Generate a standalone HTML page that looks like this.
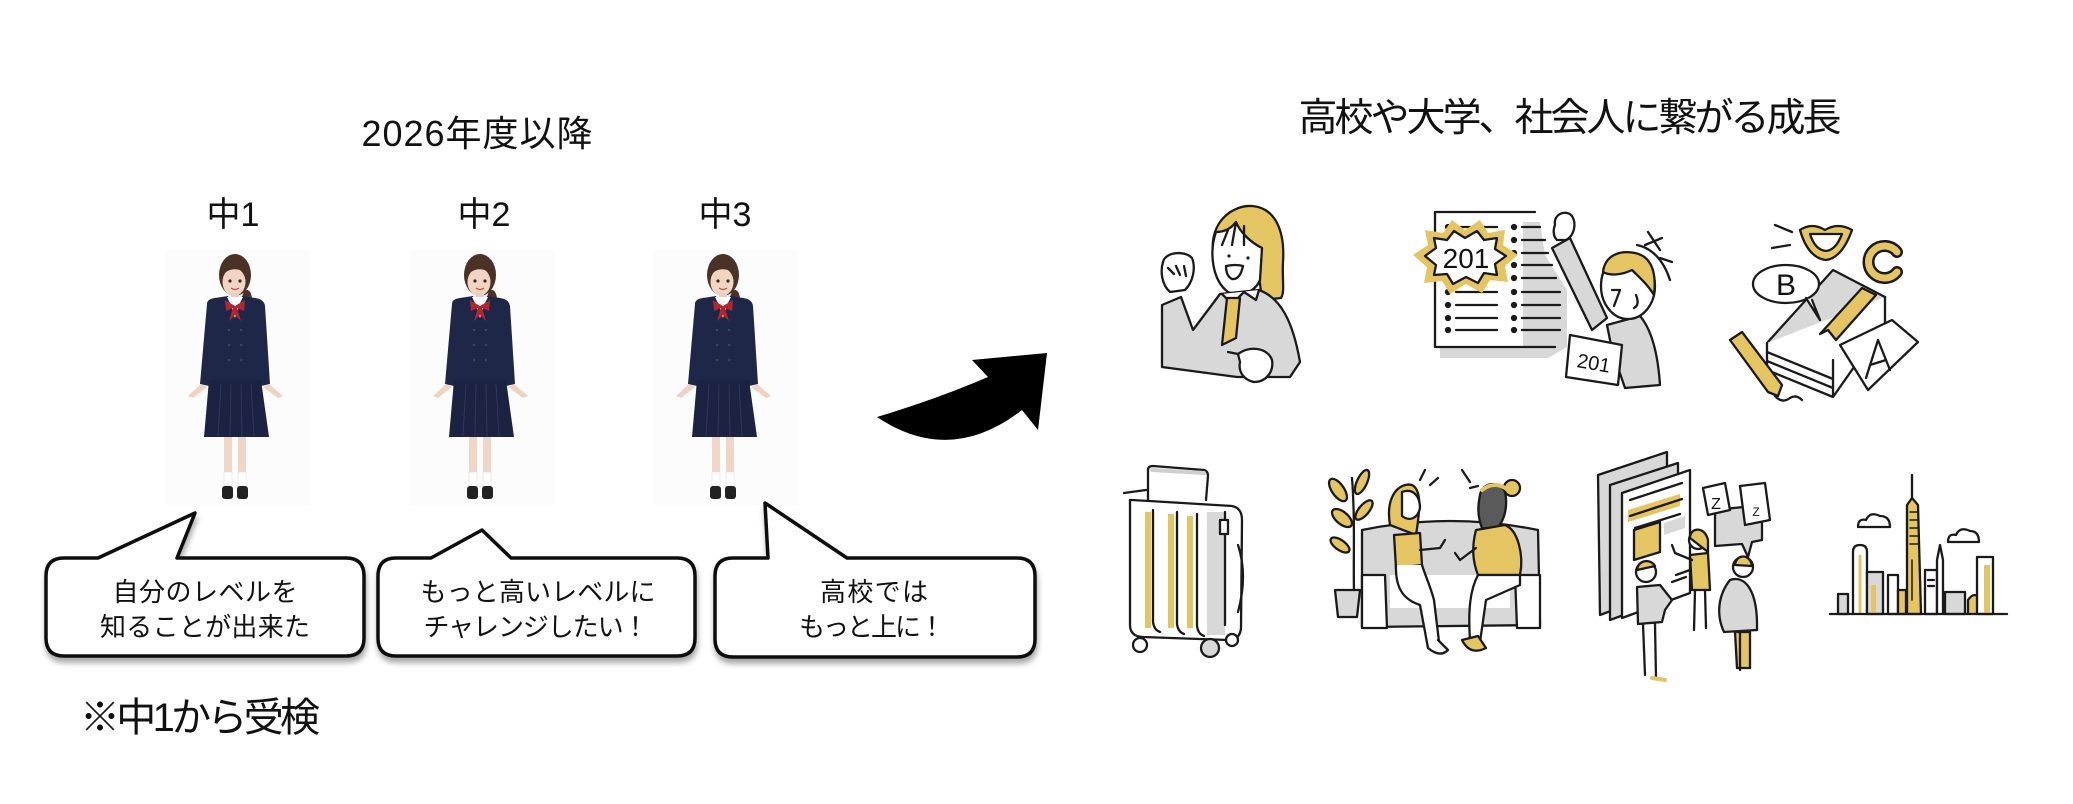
<!DOCTYPE html>
<html><head><meta charset="utf-8">
<style>
html,body{margin:0;padding:0;background:#fff;}
svg{display:block;}
text{font-family:"Liberation Sans","Noto Sans CJK JP",sans-serif;fill:#111;}
</style></head>
<body>
<svg width="2073" height="804" viewBox="0 0 2073 804" xmlns="http://www.w3.org/2000/svg">
<defs>
  <filter id="sh" x="-10%" y="-20%" width="120%" height="150%">
    <feDropShadow dx="1" dy="5" stdDeviation="3" flood-color="#000" flood-opacity="0.35"/>
  </filter>
  <g id="girl">
    <rect x="-70" y="250" width="145" height="255" fill="#fcfcfc"/>
    <!-- hair back + ponytail -->
    <ellipse cx="0" cy="275" rx="16" ry="21" fill="#4a3226"/>
    <ellipse cx="12" cy="300" rx="5" ry="10" fill="#4a3226"/>
    <!-- face -->
    <ellipse cx="-1" cy="282" rx="11.5" ry="14" fill="#f2d4c3"/>
    <path d="M-13 276 C-12 262 10 260 13 276 C8 268 -6 266 -13 276 Z" fill="#4a3226"/>
    <circle cx="-5" cy="281" r="1.6" fill="#3a2a22"/>
    <circle cx="5" cy="281" r="1.6" fill="#3a2a22"/>
    <path d="M-4 288 Q0 291 4 288" stroke="#b0504a" stroke-width="1.2" fill="none"/>
    <rect x="-4" y="293" width="8" height="6" fill="#ead0c0"/>
    <!-- jacket -->
    <path d="M-28 304 Q-28 299 -20 298 L-7 296 L0 318 L7 296 L20 298 Q29 299 30 306 L35 384 L26 386 L25 381 L-25 381 L-26 386 L-35 384 Z" fill="#1f2749"/>
    <path d="M-8 297 L8 297 L4 305 L-4 305 Z" fill="#fff"/>
    <path d="M-10 300 L0 306 L10 300 L9 311 L2 308 L6 321 L0 315 L-6 321 L-2 308 L-9 311 Z" fill="#b3262f"/>
    <g fill="#3d4566"><circle cx="-6" cy="330" r="1.3"/><circle cx="6" cy="330" r="1.3"/><circle cx="-6" cy="345" r="1.3"/><circle cx="6" cy="345" r="1.3"/><circle cx="-6" cy="360" r="1.3"/><circle cx="6" cy="360" r="1.3"/></g>
    <!-- hands -->
    <path d="M-34 384 L-47 396 L-42 398 L-28 387 Z" fill="#efd2c2"/>
    <path d="M34 384 L48 396 L43 398 L28 387 Z" fill="#efd2c2"/>
    <!-- skirt -->
    <path d="M-26 380 L26 380 L34 437 L-31 437 Z" fill="#1b2242"/>
    <g stroke="#2e3760" stroke-width="1"><line x1="-14" y1="384" x2="-17" y2="436"/><line x1="-4" y1="384" x2="-5" y2="436"/><line x1="6" y1="384" x2="7" y2="436"/><line x1="16" y1="384" x2="19" y2="436"/></g>
    <!-- legs -->
    <rect x="-11" y="437" width="8" height="40" fill="#efd6c6"/>
    <rect x="3" y="437" width="8" height="40" fill="#efd6c6"/>
    <rect x="-11" y="472" width="8" height="14" fill="#fff" stroke="#ddd" stroke-width="0.6"/>
    <rect x="3" y="472" width="8" height="14" fill="#fff" stroke="#ddd" stroke-width="0.6"/>
    <rect x="-13" y="486" width="11" height="13" rx="3" fill="#222"/>
    <rect x="2" y="486" width="11" height="13" rx="3" fill="#222"/>
  </g>
</defs>

<!-- Titles -->
<text x="477" y="146" font-size="36" text-anchor="middle" textLength="231" lengthAdjust="spacing">2026年度以降</text>
<text x="233" y="226" font-size="34" text-anchor="middle">中1</text>
<text x="484" y="226" font-size="34" text-anchor="middle">中2</text>
<text x="725" y="226" font-size="34" text-anchor="middle">中3</text>
<text x="1570" y="131" font-size="39" text-anchor="middle" textLength="543" lengthAdjust="spacing">高校や大学、社会人に繋がる成長</text>

<!-- girls -->
<use href="#girl" x="235" y="0"/>
<use href="#girl" x="480" y="0"/>
<use href="#girl" x="723" y="0"/>

<!-- bubbles -->
<g fill="#fff" stroke="#111" stroke-width="3.5" stroke-linejoin="round" filter="url(#sh)">
  <path d="M64 558 L98 558 L195 513 L177 558 L346 558 Q364 558 364 576 L364 638 Q364 656 346 656 L64 656 Q46 656 46 638 L46 576 Q46 558 64 558 Z"/>
  <path d="M396 558 L431 558 L482 530 L511 558 L677 558 Q695 558 695 576 L695 638 Q695 656 677 656 L396 656 Q378 656 378 638 L378 576 Q378 558 396 558 Z"/>
  <path d="M733 558 L768 558 L765 503 L847 558 L1017 558 Q1035 558 1035 576 L1035 639 Q1035 657 1017 657 L733 657 Q715 657 715 639 L715 576 Q715 558 733 558 Z"/>
</g>
<text x="205" y="601" font-size="26" text-anchor="middle" textLength="185" lengthAdjust="spacing">自分のレベルを</text>
<text x="205" y="636" font-size="26" text-anchor="middle" textLength="210" lengthAdjust="spacing">知ることが出来た</text>
<text x="538" y="601" font-size="26" text-anchor="middle" textLength="235" lengthAdjust="spacing">もっと高いレベルに</text>
<text x="536" y="636" font-size="26" text-anchor="middle" textLength="225" lengthAdjust="spacing">チャレンジしたい！</text>
<text x="874" y="601" font-size="26" text-anchor="middle" textLength="108" lengthAdjust="spacing">高校では</text>
<text x="872" y="636" font-size="26" text-anchor="middle" textLength="146" lengthAdjust="spacing">もっと上に！</text>

<text x="80" y="731" font-size="40" textLength="240" lengthAdjust="spacing">※中1から受検</text>

<!-- big arrow -->
<path d="M877 417 Q937 399 988 377 L972 360 L1047 353 L1038 430 L1022 410 Q950 466 877 417 Z" fill="#000"/>

<!-- ============ ICONS ============ -->
<g stroke="#1a1a1a" stroke-width="2.3" stroke-linecap="round" stroke-linejoin="round">

<!-- Icon1: girl with fist -->
<path d="M1213 252 C1210 222 1232 205 1252 206 C1276 208 1285 232 1283 262 C1282 280 1285 292 1281 298 L1262 300 L1258 268 Z" fill="#e5c562"/>
<path d="M1216 232 C1209 252 1212 280 1228 292 C1240 298 1255 292 1260 280 L1262 248 C1250 242 1240 232 1236 222 C1230 230 1222 232 1216 232 Z" fill="#fff"/>
<path d="M1236 222 L1232 245 M1244 226 L1244 245 M1228 230 L1222 245" fill="none"/>
<circle cx="1229" cy="256" r="1.6" fill="#1a1a1a" stroke="none"/>
<circle cx="1248" cy="258" r="1.6" fill="#1a1a1a" stroke="none"/>
<path d="M1226 266 Q1236 264 1243 266 Q1240 280 1232 279 Q1226 276 1226 266 Z" fill="#fff"/>
<path d="M1162 305 L1181 297 L1193 330 L1220 294 L1259 290 C1281 298 1293 322 1300 362 L1290 377 L1237 377 L1162 367 Z" fill="#d8d8d8"/>
<path d="M1222 294 L1232 304 L1244 292 L1256 300 L1259 290" fill="#fff"/>
<path d="M1227 298 L1240 298 L1236 338 L1222 345 Z" fill="#e5c562"/>
<path d="M1163 262 C1165 252 1185 250 1192 258 C1196 268 1193 282 1185 290 L1170 292 C1162 285 1160 272 1163 262 Z" fill="#fff"/>
<path d="M1168 268 L1174 274 M1176 266 L1180 275 M1184 266 L1186 276" fill="none"/>
<path d="M1238 354 C1250 345 1268 348 1272 360 C1274 372 1266 382 1254 382 C1244 380 1238 372 1240 362 Z" fill="#fff"/>
<path d="M1238 354 L1228 352" fill="none"/>

<!-- Icon2: list with 201 -->
<path d="M1523 222 L1540 222 L1545 255 L1567 290 L1567 347 L1548 358 L1440 358 L1440 347 L1523 347 Z" fill="#d8d8d8" stroke="none"/>
<path d="M1535 212 L1435 212 L1435 347 L1555 347" fill="none"/>
<g fill="#1a1a1a">
  <circle cx="1448" cy="227" r="2"/><circle cx="1448" cy="292" r="2"/><circle cx="1448" cy="305" r="2"/><circle cx="1448" cy="318" r="2"/><circle cx="1448" cy="330" r="2"/>
  <circle cx="1514" cy="227" r="2"/><circle cx="1514" cy="240" r="2"/><circle cx="1514" cy="253" r="2"/><circle cx="1514" cy="265" r="2"/><circle cx="1514" cy="278" r="2"/><circle cx="1514" cy="292" r="2"/><circle cx="1514" cy="305" r="2"/><circle cx="1514" cy="318" r="2"/><circle cx="1514" cy="330" r="2"/>
</g>
<path d="M1456 227 H1497 M1456 292 H1497 M1456 305 H1497 M1456 318 H1497 M1456 330 H1497 M1522 227 H1540 M1522 240 H1545 M1522 253 H1548 M1522 265 H1552 M1522 278 H1556 M1522 292 H1560 M1522 305 H1560 M1522 318 H1560 M1522 330 H1560" fill="none"/>
<polygon points="1413,255 1428,245 1425,230 1443,233 1452,220 1465,230 1480,220 1488,233 1505,230 1503,245 1518,255 1505,266 1508,282 1490,280 1482,293 1466,284 1450,294 1442,281 1424,283 1427,267" fill="#e5c562" stroke="none"/>
<polygon points="1425,256 1436,248 1434,238 1447,240 1454,231 1465,238 1477,231 1484,240 1497,238 1495,249 1506,256 1495,264 1497,275 1484,273 1478,283 1466,277 1453,284 1447,274 1434,275 1436,265" fill="#fff"/>
<text x="1466" y="268" font-size="28" text-anchor="middle" stroke="none">201</text>
<path d="M1552 248 L1570 238 L1607 318 L1592 330 Z" fill="#d8d8d8"/>
<path d="M1555 225 C1553 214 1566 209 1572 216 C1577 224 1574 236 1566 240 L1557 240 C1553 236 1553 230 1555 225 Z" fill="#fff"/>
<path d="M1607 325 L1640 316 C1652 330 1658 355 1660 385 L1625 388 L1612 350 Z" fill="#d8d8d8"/>
<ellipse cx="1628" cy="286" rx="27" ry="33" fill="#fff"/>
<path d="M1603 272 C1605 255 1620 250 1635 253 C1650 256 1657 270 1654 295 C1648 285 1640 278 1632 270 C1622 275 1610 276 1603 272 Z" fill="#e5c562"/>
<path d="M1612 290 L1620 290 L1614 306 M1636 295 Q1640 305 1634 308" fill="none"/>
<path d="M1570 335 L1622 345 L1618 385 L1566 377 Z" fill="#fff"/>
<text x="1594" y="370" font-size="20" text-anchor="middle" stroke="none" transform="rotate(10 1594 362)">201</text>
<path d="M1637 245 Q1660 250 1670 280 M1648 232 L1660 250 M1645 245 L1662 238 M1660 258 L1672 262" fill="none"/>

<!-- Icon3: books ABC -->
<path d="M1775 225 L1792 232 M1772 248 L1790 245" fill="none"/>
<path d="M1800 230 Q1812 222 1825 230 Q1838 222 1852 230 Q1842 258 1826 260 Q1808 258 1800 230 Z" fill="#e5c562"/>
<path d="M1810 234 L1842 234 Q1836 250 1826 251 Q1815 250 1810 234 Z" fill="#fff"/>
<path d="M1897 252 A16 16 0 1 0 1897 272" fill="none" stroke="#1a1a1a" stroke-width="12"/>
<path d="M1897 252 A16 16 0 1 0 1897 272" fill="none" stroke="#e5c562" stroke-width="7"/>
<path d="M1767 343 L1833 270 L1885 297 L1833 360 Z" fill="#d8d8d8"/>
<path d="M1767 343 L1767 370 L1833 397 L1885 323 L1885 297 M1767 352 L1833 379 M1767 361 L1833 388 M1833 360 L1833 397" fill="#fff"/>
<path d="M1862 288 L1876 295 L1836 340 L1828 330 L1820 334 Z" fill="#e5c562"/>
<path d="M1840 345 L1892 320 L1918 342 L1868 390 Z" fill="#fff"/>
<path d="M1866 378 L1878 340 L1890 370 M1870 365 L1886 360" fill="none"/>
<ellipse cx="1786" cy="284" rx="33" ry="19" fill="#fff"/>
<path d="M1806 298 L1820 320 L1812 300" fill="#fff"/>
<text x="1786" y="295" font-size="30" text-anchor="middle" stroke="none">B</text>
<path d="M1730 340 L1742 332 L1782 385 L1778 396 L1768 392 Z" fill="#e5c562"/>
<path d="M1775 396 Q1782 404 1790 398 Q1796 394 1802 400" fill="none"/>

<!-- Icon4: suitcase -->
<path d="M1148 500 L1148 470 Q1148 466 1153 466 L1204 470 Q1208 471 1208 476 L1206 500" fill="none"/>
<path d="M1152 470 L1204 473" stroke="#cfcfcf" stroke-width="4"/>
<path d="M1132 500 L1232 506 Q1242 508 1242 520 L1241 628 Q1240 640 1228 640 L1142 637 Q1130 636 1130 625 L1130 500 Z" fill="#fff"/>
<path d="M1207 512 L1225 512 L1225 635 L1207 635 Z" fill="#d8d8d8" stroke="none"/>
<g stroke="#e5c562" stroke-width="6" stroke-linecap="butt">
  <line x1="1148" y1="512" x2="1148" y2="628"/><line x1="1171" y1="514" x2="1171" y2="628"/><line x1="1190" y1="516" x2="1190" y2="628"/>
</g>
<path d="M1153 510 L1153 622 Q1154 630 1160 632 M1177 512 L1177 624 Q1178 632 1184 634 M1197 514 L1197 626 Q1198 634 1204 636 M1225 512 L1225 625" fill="none"/>
<rect x="1220" y="520" width="8" height="14" fill="#fff"/>
<path d="M1238 545 Q1248 575 1238 612" fill="none"/>
<path d="M1124 493 L1146 490" fill="none"/>
<circle cx="1140" cy="645" r="7" fill="#fff"/><circle cx="1210" cy="648" r="9" fill="#d8d8d8"/><circle cx="1232" cy="640" r="6" fill="#fff"/>

<!-- Icon5: sofa conversation -->
<path d="M1355 617 C1352 580 1356 530 1352 478" fill="none"/>
<g fill="#e5c562">
  <ellipse cx="1338" cy="490" rx="6" ry="13" transform="rotate(-35 1338 490)"/>
  <ellipse cx="1362" cy="482" rx="5" ry="13" transform="rotate(25 1362 482)"/>
  <ellipse cx="1342" cy="518" rx="6" ry="12" transform="rotate(-50 1342 518)"/>
  <ellipse cx="1364" cy="510" rx="5" ry="12" transform="rotate(40 1364 510)"/>
  <ellipse cx="1340" cy="545" rx="5" ry="11" transform="rotate(-55 1340 545)"/>
</g>
<path d="M1335 590 L1360 590 L1357 617 L1338 617 Z" fill="#d8d8d8"/>
<path d="M1362 530 Q1450 512 1538 530 L1540 625 L1362 627 Z" fill="#d8d8d8"/>
<path d="M1362 575 L1385 575 L1387 628 L1362 628 Z M1515 575 L1540 575 L1540 628 L1517 628 Z" fill="#fff"/>
<path d="M1390 575 L1510 575 L1510 608 L1390 608 Z" fill="#fff" stroke="none"/>
<!-- woman 1 -->
<path d="M1390 525 C1385 495 1400 482 1412 485 C1422 490 1420 510 1416 535 Z" fill="#e5c562"/>
<path d="M1402 492 C1412 488 1420 495 1420 508 C1418 518 1410 522 1402 516 Z" fill="#fff"/>
<path d="M1394 535 L1420 533 L1422 565 L1396 568 Z" fill="#e5c562"/>
<path d="M1420 550 L1440 548 L1445 540" fill="none"/>
<path d="M1396 565 C1395 590 1405 600 1420 605 L1428 648 L1440 650 L1434 600 C1430 585 1425 575 1422 565" fill="#fff"/>
<path d="M1428 648 Q1440 658 1448 650 L1438 640" fill="#fff"/>
<!-- woman 2 -->
<circle cx="1512" cy="488" r="8" fill="#e5c562"/>
<path d="M1480 495 C1482 482 1500 480 1505 492 C1508 505 1505 522 1495 530 L1482 528 C1477 515 1478 505 1480 495 Z" fill="#5a5a5a"/>
<path d="M1482 490 Q1495 480 1508 490" stroke="#e5c562" stroke-width="4" fill="none"/>
<path d="M1476 530 L1505 525 C1518 530 1524 555 1520 575 L1478 575 C1472 560 1472 545 1476 530 Z" fill="#e5c562"/>
<path d="M1476 548 L1460 560 L1455 553" fill="none"/>
<path d="M1478 575 C1470 590 1468 610 1470 640 L1480 642 L1486 600 L1520 585 L1520 575 Z" fill="#fff"/>
<path d="M1462 640 Q1470 656 1486 648 L1478 636 Z" fill="#e5c562"/>
<path d="M1420 480 L1425 470 M1430 485 L1438 478 M1462 470 L1470 482 M1470 488 L1478 486" fill="none"/>

<!-- Icon6: board discussion -->
<path d="M1598 475 L1667 452 L1667 590 L1600 615 Z" fill="#d8d8d8"/>
<path d="M1610 485 L1678 463 L1678 595 L1610 620 Z" fill="#d8d8d8"/>
<path d="M1622 493 L1690 470 L1690 593 L1622 618 Z" fill="#fff"/>
<path d="M1628 510 L1680 494 L1680 506 L1628 522 Z" fill="#e5c562" stroke="none"/>
<path d="M1630 500 L1682 483 M1630 516 L1682 499 M1635 528 L1680 514" fill="none"/>
<path d="M1634 530 L1660 522 L1660 552 L1634 560 Z" fill="#e5c562"/>
<path d="M1664 523 L1685 516 L1685 528 L1664 535 Z" fill="#d8d8d8" stroke="none"/>
<path d="M1715 510 L1762 505 L1762 540 L1752 542 L1748 557 L1742 544 L1715 546 Z" fill="#d8d8d8"/>
<path d="M1703 488 L1725 483 L1730 510 L1708 515 Z" fill="#fff"/>
<path d="M1740 486 L1765 483 L1770 520 L1745 525 Z" fill="#fff"/>
<text x="1716" y="509" font-size="16" text-anchor="middle" stroke="none">Z</text>
<text x="1756" y="516" font-size="12" text-anchor="middle" stroke="none">Z</text>
<!-- p1 -->
<circle cx="1646" cy="572" r="10" fill="#fff"/>
<path d="M1637 570 C1638 560 1650 558 1655 566 Z" fill="#e5c562"/>
<path d="M1637 587 L1660 585 L1672 600 L1665 610 L1662 622 L1638 624 Z" fill="#d8d8d8"/>
<path d="M1643 624 L1645 675 M1655 624 L1656 678" fill="none"/>
<path d="M1652 678 L1665 680" stroke="#e5c562" stroke-width="4"/>
<!-- p2 -->
<circle cx="1698" cy="540" r="9" fill="#fff"/>
<path d="M1690 538 C1690 527 1705 526 1708 540 L1708 552 Z" fill="#e5c562"/>
<path d="M1690 555 L1708 553 L1710 590 L1692 590 Z" fill="#e5c562"/>
<path d="M1692 560 L1675 553 L1672 545" fill="none"/>
<path d="M1695 590 L1694 630 M1705 590 L1706 628" fill="none"/>
<!-- p3 -->
<circle cx="1743" cy="567" r="10" fill="#fff"/>
<path d="M1735 565 C1736 554 1750 553 1752 566 Z" fill="#e5c562"/>
<path d="M1730 580 C1745 575 1758 590 1757 630 L1724 632 C1716 615 1718 595 1730 580 Z" fill="#d8d8d8"/>
<path d="M1735 632 L1750 632 L1750 668 L1737 668 Z" fill="#e5c562"/>
<path d="M1740 632 L1740 670" fill="none"/>
<path d="M1676 575 L1690 570 M1672 582 L1686 577" fill="none"/>

<!-- Icon7: city -->
<path d="M1858 527 Q1858 518 1866 520 Q1870 511 1880 516 Q1890 516 1890 527 Z" fill="#fff"/>
<path d="M1948 542 Q1948 533 1956 535 Q1960 526 1970 531 Q1979 531 1979 542 Z" fill="#fff"/>
<rect x="1838" y="594" width="10" height="20" fill="#d8d8d8"/>
<path d="M1853 614 L1853 552 Q1853 545 1860 545 Q1867 545 1867 552 L1867 614" fill="#fff"/>
<path d="M1860 556 L1860 612" stroke="#e5c562" stroke-width="3"/>
<rect x="1867" y="572" width="16" height="42" fill="#d8d8d8"/>
<rect x="1871" y="585" width="5" height="29" fill="#e5c562" stroke="none"/>
<rect x="1888" y="575" width="10" height="39" fill="#fff"/>
<rect x="1898" y="590" width="8" height="24" fill="#e5c562"/>
<path d="M1912 475 L1912 500" fill="none"/>
<path d="M1907 614 L1907 505 L1912 498 L1918 505 L1921 614 Z" fill="#e5c562"/>
<path d="M1910 512 H1918 M1910 520 H1918 M1910 528 H1918 M1910 536 H1918 M1910 544 H1918 M1912 560 V600" fill="none" stroke-width="1.5"/>
<rect x="1925" y="570" width="12" height="44" fill="#fff"/>
<path d="M1928 580 H1934 M1928 586 H1934" fill="none"/>
<path d="M1937 614 L1937 560 L1940 545 L1943 560 L1943 614" fill="#fff"/>
<rect x="1945" y="592" width="20" height="22" fill="#d8d8d8"/>
<path d="M1968 614 L1968 600 Q1975 590 1980 600 L1980 614" fill="#e5c562"/>
<rect x="1977" y="557" width="16" height="57" fill="#fff"/>
<rect x="1984" y="565" width="6" height="49" fill="#e5c562" stroke="none"/>
<path d="M1830 614 L2007 614" fill="none"/>
</g>
</svg>
</body></html>
